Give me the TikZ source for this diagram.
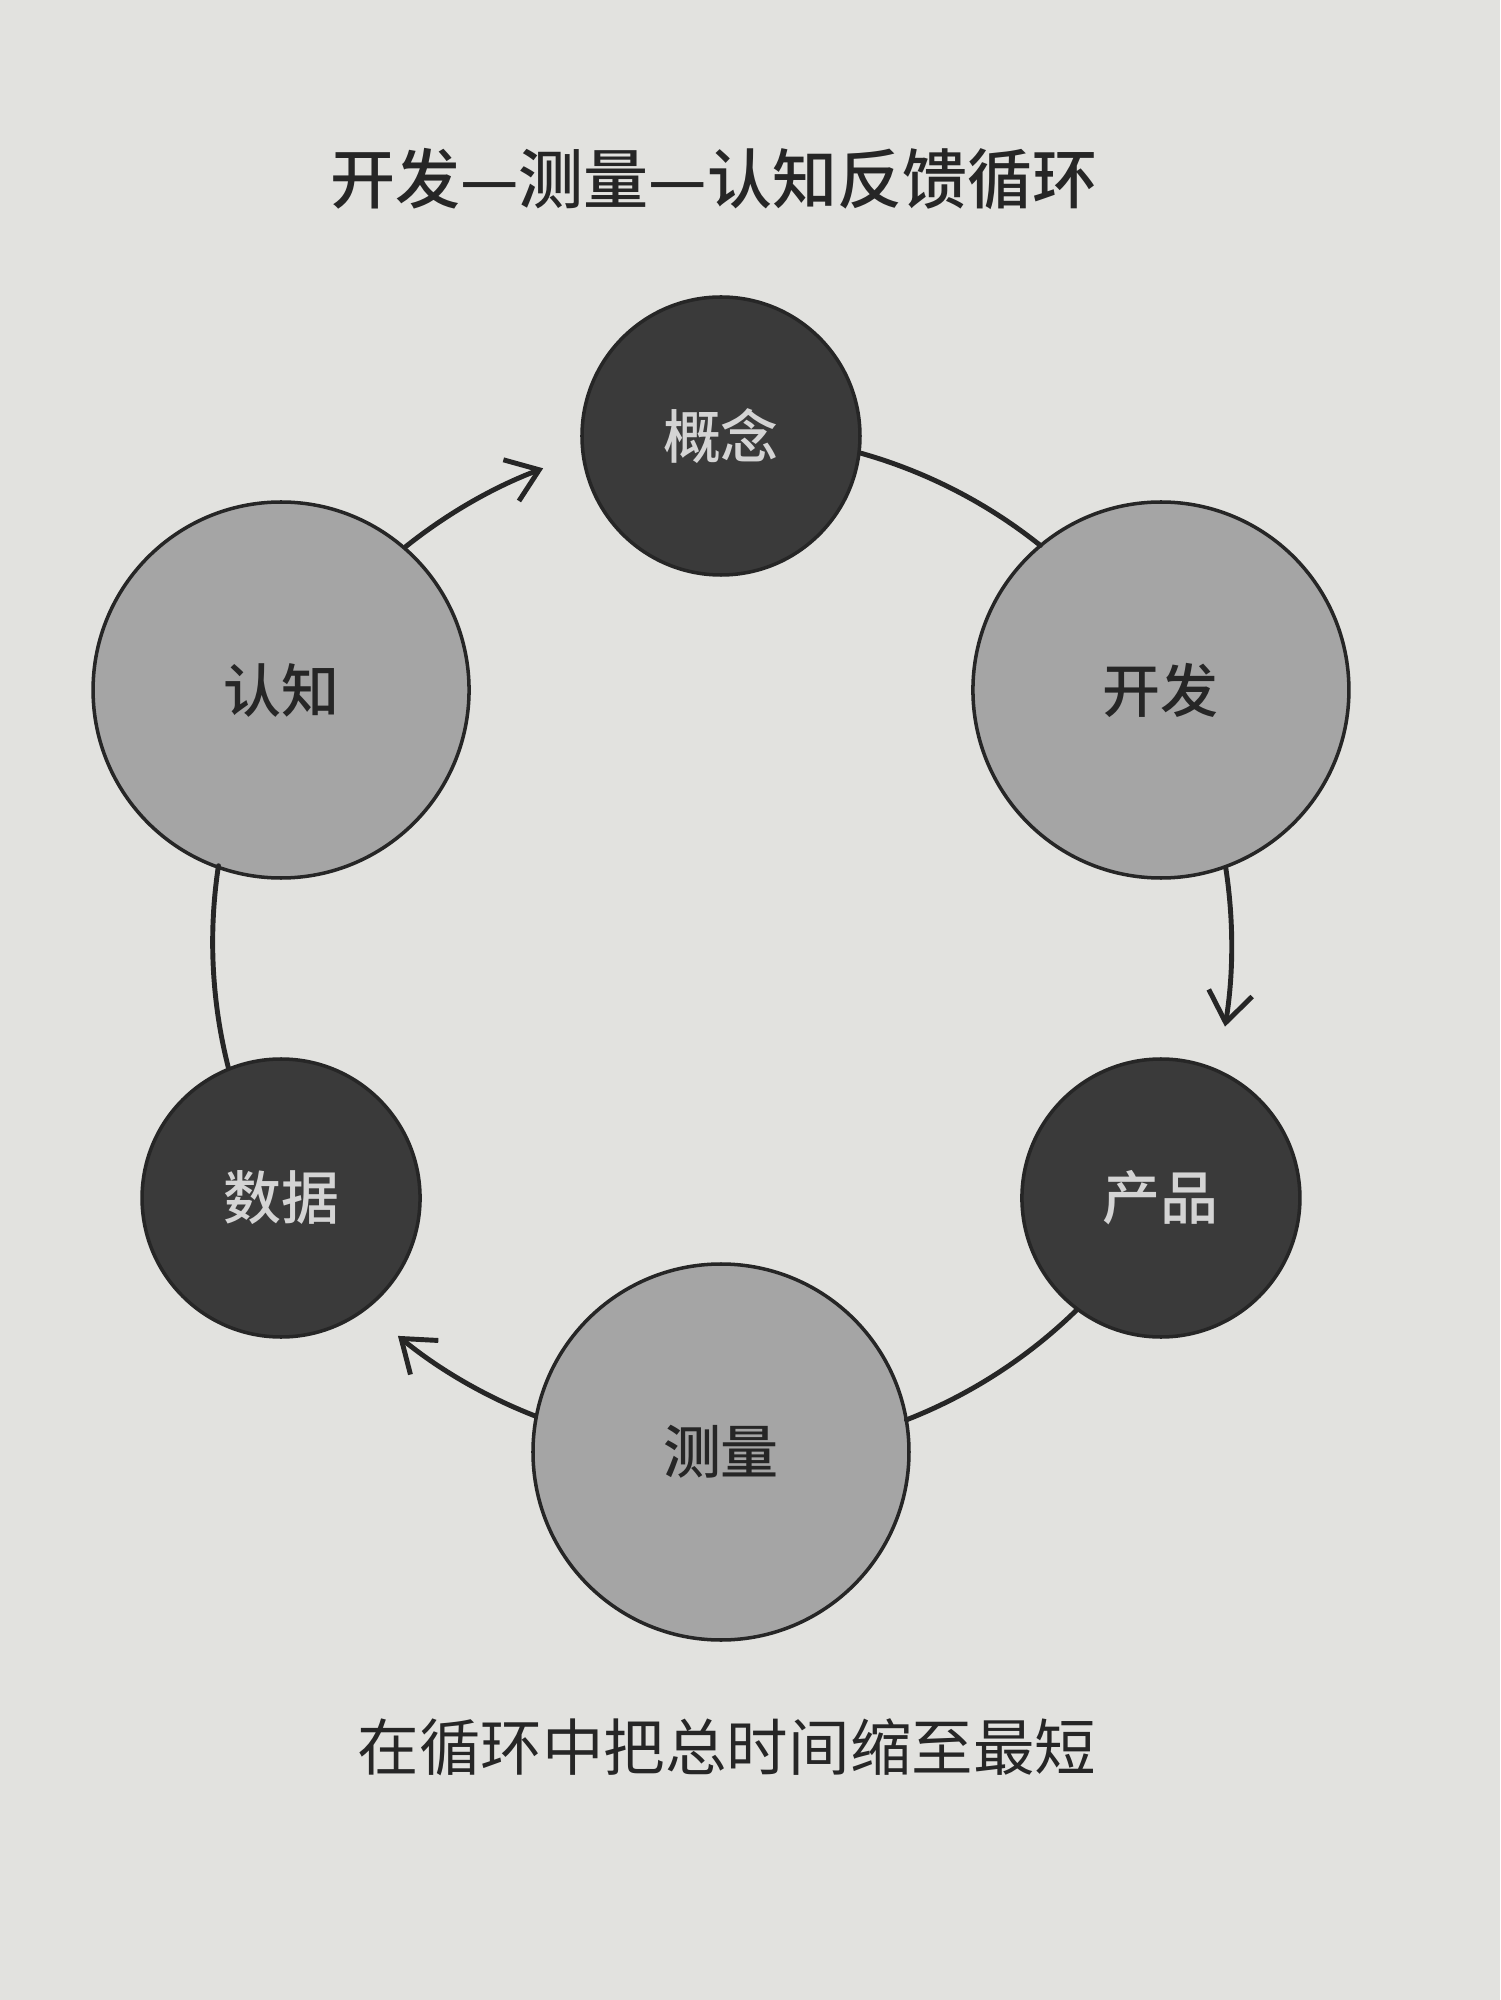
\documentclass[tikz,border=0pt]{standalone}
\usepackage{fontspec}
\newfontfamily\cjk{Noto Sans CJK SC}
\newfontfamily\cjkmed{Noto Sans CJK SC Medium}
\usetikzlibrary{arrows.meta}
\definecolor{paper}{RGB}{226,226,223}
\definecolor{darkdot}{RGB}{58,58,58}
\definecolor{lightdot}{RGB}{165,165,165}
\definecolor{inkgray}{RGB}{38,38,38}
\definecolor{pale}{RGB}{212,212,212}

\begin{document}
\begin{tikzpicture}[line join=round, line cap=round,
	darkdot/.style={circle, draw=inkgray, line width=1pt, fill=darkdot, text=pale,
		minimum size=2.78cm, inner sep=0pt, font=\cjkmed\fontsize{16.5}{18}\selectfont},
	lightdot/.style={circle, draw=inkgray, line width=1pt, fill=lightdot, text=inkgray,
		minimum size=3.76cm, inner sep=0pt, font=\cjkmed\fontsize{16.5}{18}\selectfont},
	ring/.style={draw=inkgray, line width=1.4pt},
	arrowed/.style={-{Straight Barb[length=3mm,width=4.4mm]}}]
			\fill[paper] (-7.21,9.44) rectangle (7.79,-10.56);
			\node[text=inkgray, font=\cjkmed\fontsize{18.5}{20}\selectfont] (title) at (-0.07,7.65) {开发—测量—认知反馈循环};
			\node[darkdot]  (gn) at (90:5.08)   {概念};
			\node[lightdot] (kf) at (30:5.08)   {开发};
			\node[darkdot]  (cp) at (-30:5.08)  {产品};
			\node[lightdot] (cl) at (-90:5.08)  {测量};
			\node[darkdot]  (sj) at (-150:5.08) {数据};
			\node[lightdot] (rz) at (150:5.08)  {认知};
			\draw[ring] (gn.-7.87) arc[start angle=74.27, end angle=51.33, radius=5.08];
			\draw[ring, arrowed] (kf.-70.67) arc[start angle=8.67, end angle=-9.27, radius=5.08];
			\draw[ring] (cp.-127.87) arc[start angle=-45.73, end angle=-68.67, radius=5.08];
			\draw[ring, arrowed] (cl.169.33) arc[start angle=-111.33, end angle=-129.27, radius=5.08];
			\draw[ring] (sj.112.13) arc[start angle=-165.73, end angle=-188.67, radius=5.08];
			\draw[ring, arrowed] (rz.49.33) arc[start angle=128.67, end angle=110.73, radius=5.08];
			\node[text=inkgray, font=\cjk\fontsize{17.5}{20}\selectfont] (note) at (0.06,-8.03) {在循环中把总时间缩至最短};
		\end{tikzpicture}
\end{document}
